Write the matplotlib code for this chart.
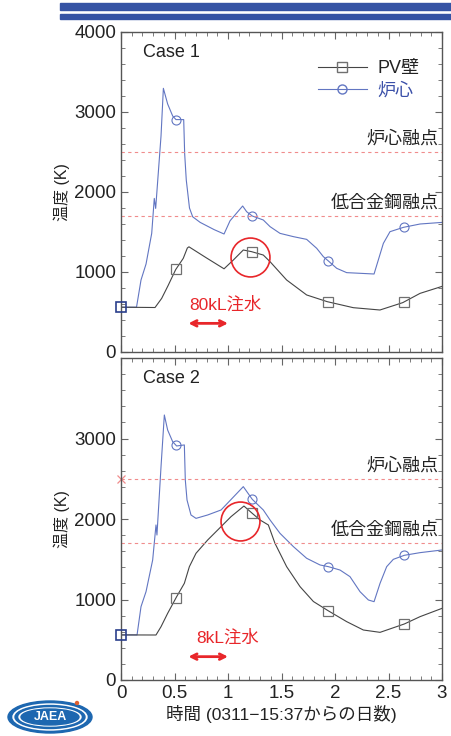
import numpy as np
import matplotlib
matplotlib.use('Agg')
import matplotlib.pyplot as plt
from matplotlib.patches import Rectangle, Ellipse
from matplotlib.ticker import MultipleLocator

plt.rcParams['font.family'] = ['Liberation Sans', 'Noto Sans CJK JP', 'DejaVu Sans']

# case 1 (80kL injection)
c1_core_t = [0, 0.145, 0.187, 0.234, 0.287, 0.311, 0.324, 0.374, 0.396, 0.436, 0.483, 0.514,
             0.586, 0.595, 0.61, 0.64, 0.67, 0.74, 0.87, 0.963, 1.019, 1.137, 1.174, 1.227,
             1.33, 1.393, 1.486, 1.611, 1.735, 1.829, 1.891, 1.938, 2.016, 2.109, 2.365,
             2.452, 2.514, 2.639, 2.795, 3.0]
c1_core_T = [560, 560, 900, 1100, 1483, 1920, 1795, 2700, 3296, 3100, 2950, 2905,
             2905, 2480, 2150, 1800, 1690, 1620, 1530, 1475, 1640, 1825, 1754, 1700,
             1650, 1567, 1483, 1442, 1408, 1296, 1192, 1138, 1046, 992, 975,
             1358, 1504, 1558, 1600, 1620]
c1_pv_t = [0, 0.318, 0.38, 0.44, 0.511, 0.582, 0.62, 0.635, 0.80, 0.963, 1.05, 1.143,
           1.221, 1.33, 1.393, 1.548, 1.735, 1.928, 2.171, 2.42, 2.633, 2.795, 3.0]
c1_pv_T = [560, 556, 670, 830, 1030, 1171, 1300, 1315, 1175, 1040, 1150, 1275,
           1254, 1212, 1129, 900, 713, 629, 554, 525, 617, 733, 820]

# case 2 (8kL injection)
c2_core_t = [0, 0.15, 0.187, 0.234, 0.296, 0.327, 0.336, 0.374, 0.405, 0.436, 0.483, 0.52,
             0.592, 0.601, 0.617, 0.654, 0.701, 0.81, 0.935, 1.143, 1.227, 1.33, 1.393,
             1.486, 1.611, 1.735, 1.86, 1.938, 2.047, 2.14, 2.234, 2.312, 2.365, 2.421,
             2.483, 2.545, 2.648, 2.795, 3.0]
c2_core_T = [560, 560, 911, 1098, 1491, 1926, 1801, 2650, 3292, 3105, 2960, 2907,
             2920, 2484, 2236, 2050, 2008, 2050, 2112, 2402, 2244, 2112, 1988,
             1822, 1657, 1512, 1429, 1408, 1366, 1284, 1097, 994, 973, 1201,
             1408, 1499, 1549, 1582, 1615]
c2_pv_t = [0, 0.327, 0.374, 0.436, 0.52, 0.592, 0.639, 0.701, 0.81, 0.935, 1.028, 1.149,
           1.227, 1.299, 1.377, 1.439, 1.548, 1.673, 1.798, 1.938, 2.109, 2.265, 2.421,
           2.648, 2.795, 3.0]
c2_pv_T = [560, 559, 662, 828, 1035, 1201, 1408, 1574, 1739, 1905, 2029, 2161,
           2070, 1988, 1926, 1698, 1408, 1160, 975, 859, 725, 621, 592,
           696, 787, 890]

marker_t = [0.515, 1.227, 1.935, 2.645]
core_melt = 2500
steel_melt = 1700
highlight = [(1.206, 1191), (1.112, 1975)]
injection = ['80kL注水', '8kL注水']
inject_span = (0.63, 1.0)

blue = '#6276c2'
gray = '#454545'
red = '#e8262a'
pink = '#f08c8c'
dark = '#222222'

fig = plt.figure(figsize=(4.51, 7.36), dpi=100)

# header bars
fig.patches.append(Rectangle((60 / 451, 1 - 10 / 736), 391 / 451, 7 / 736,
                             transform=fig.transFigure, color='#3553a4', zorder=0))
fig.patches.append(Rectangle((60 / 451, 1 - 18.5 / 736), 391 / 451, 4 / 736,
                             transform=fig.transFigure, color='#3553a4', zorder=0))

ax1 = fig.add_axes([121 / 451, 1 - 352 / 736, 321 / 451, 320 / 736])
ax2 = fig.add_axes([121 / 451, 1 - 680 / 736, 321 / 451, 322 / 736])

cases = [(ax1, c1_core_t, c1_core_T, c1_pv_t, c1_pv_T, 'Case 1'),
         (ax2, c2_core_t, c2_core_T, c2_pv_t, c2_pv_T, 'Case 2')]

for i, (ax, ct, cT, pt, pT, name) in enumerate(cases):
    ax.plot(ct, cT, color=blue, lw=0.8)
    ax.plot(pt, pT, color=gray, lw=0.8)
    ax.plot(marker_t, np.interp(marker_t, ct, cT), 'o', ms=6.5, mfc='none', mec=blue, mew=0.8)
    ax.plot(marker_t, np.interp(marker_t, pt, pT), 's', ms=6.5, mfc='none', mec='#707070', mew=0.9)
    ax.plot([0], [pT[0]], 's', ms=6.5, mfc='none', mec='#2b3f8c', mew=1.2, clip_on=False, zorder=5)

    ax.axhline(core_melt, color=pink, lw=0.8, ls=(0, (3, 3)))
    ax.axhline(steel_melt, color=pink, lw=0.8, ls=(0, (3, 3)))
    ax.text(2.97, core_melt + 155, '炉心融点', ha='right', va='center', fontsize=13, color=dark)
    ax.text(2.97, steel_melt + 160, '低合金鋼融点', ha='right', va='center', fontsize=13, color=dark)

    ax.plot([highlight[i][0]], [highlight[i][1]], 'o', ms=28, mfc='none', mec=red, mew=1.2)
    ax.text([0.98, 0.995][i], [590, 525][i], injection[i], color=red, fontsize=12.5,
            ha='center', va='center')
    ay = [358, 290][i]
    ax.annotate('', xy=(inject_span[1], ay), xytext=(inject_span[0], ay),
                arrowprops=dict(arrowstyle='<->', color=red, lw=2, mutation_scale=10,
                                shrinkA=0, shrinkB=0))

    ax.text(0.47, 3740, name, ha='center', va='center', fontsize=13, color=dark)

    ax.set_xlim(0, 3)
    ax.set_ylim(0, 4000)
    ax.xaxis.set_major_locator(MultipleLocator(0.5))
    ax.xaxis.set_minor_locator(MultipleLocator(0.1))
    ax.yaxis.set_major_locator(MultipleLocator(1000))
    ax.yaxis.set_minor_locator(MultipleLocator(200))
    ax.tick_params(which='both', direction='in', top=True, right=True, color='#666666',
                   labelsize=13.5, labelcolor=dark)
    ax.tick_params(which='major', length=5)
    ax.tick_params(which='minor', length=2.8)
    for s in ax.spines.values():
        s.set_color('#555555')
        s.set_linewidth(1)
    ax.set_ylabel('温度 (K)', fontsize=11.5, labelpad=3, color=dark)

ax1.tick_params(labelbottom=False)
ax2.set_yticks([0, 1000, 2000, 3000])
ax2.xaxis.set_major_formatter(plt.FuncFormatter(lambda v, p: f'{v:g}'))
ax2.plot([0], [core_melt], 'x', color=pink, ms=6, mew=0.9, clip_on=False)
ax2.set_xlabel('時間 (0311−15:37からの日数)', fontsize=12.6, color=dark, labelpad=2)

# legend
h1, = ax1.plot([], [], color=gray, lw=0.8, marker='s', ms=6.5, mfc='none', mec='#707070')
h2, = ax1.plot([], [], color=blue, lw=0.8, marker='o', ms=6.5, mfc='none', mec=blue)
ax1.legend([h1, h2], ['PV壁', '炉心'], loc='upper left', bbox_to_anchor=(0.585, 0.94),
           frameon=False, fontsize=13, handlelength=2.7, handletextpad=0.6,
           labelspacing=0.3, borderpad=0, labelcolor=[dark, '#3a4fa8'])

# logo
logo = fig.add_axes([5 / 451, 0, 90 / 451, 38 / 736])
logo.set_xlim(0, 90)
logo.set_ylim(0, 38)
logo.axis('off')
for w, h, c in [(84, 32, '#1d67b0'), (74, 26, 'white'), (70, 23, '#1d67b0'),
                (62, 18, 'white'), (58, 16, '#1d67b0')]:
    logo.add_patch(Ellipse((45, 19), w, h, color=c))
logo.text(45, 18.5, 'JAEA', ha='center', va='center', color='white', fontsize=9,
          fontweight='bold')
logo.add_patch(Ellipse((72, 33), 3, 3, color='#e06030'))

fig.savefig('out.png', dpi=100)
